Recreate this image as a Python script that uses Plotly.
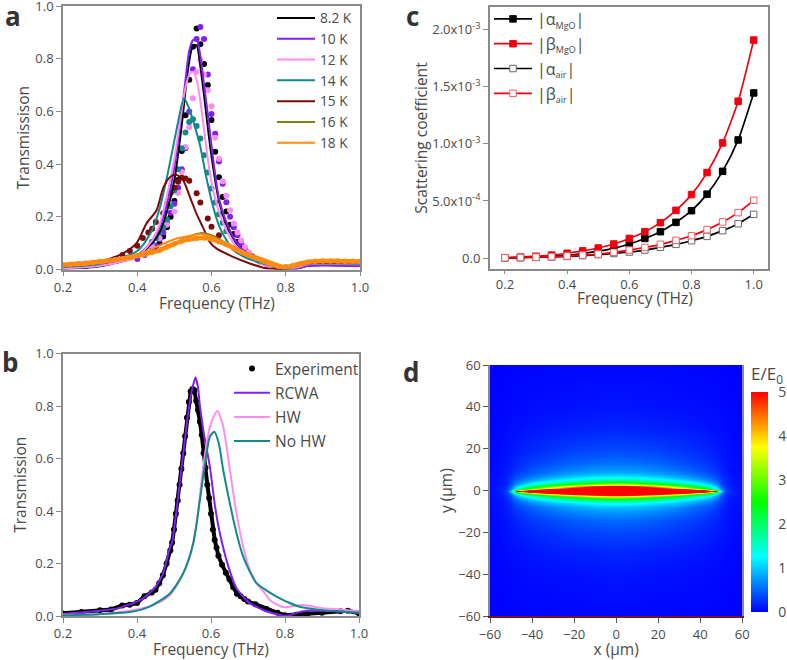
import numpy as np
import plotly.graph_objects as go

W, H = 787, 660
MR = 19              # right margin: panel c's box ends at x = 768
PW = W - MR          # plot area width that paper fractions refer to
FONT = "Open Sans"
TXT = "#4a4a4a"
AXC = "#8a8a8a"

BLACK, PURPLE, PINK, TEAL, DRED, OLIVE, ORANGE = "#000000", "#7f1ff2", "#ff8cf2", "#128a8a", "#7d0a0a", "#808012", "#ff8a12"
RED = "#f0000f"

# ---------- panel a: fitted curves
A_F = [0.2, 0.3, 0.4, 0.44, 0.46, 0.48, 0.5, 0.52, 0.53, 0.54, 0.55, 0.56, 0.57, 0.58, 0.59, 0.6, 0.62, 0.64, 0.66, 0.68, 0.7, 0.75, 0.78, 0.8, 0.83, 0.86, 0.9, 1.0]
A_8K = [.002, .012, .05, .1, .14, .22, .34, .55, .68, .79, .85, .85, .77, .66, .54, .43, .26, .17, .115, .075, .05, .015, .001, .003, .003, .015, .017, .016]
A_10K = [.005, .015, .055, .11, .16, .25, .39, .6, .72, .83, .87, .875, .81, .70, .59, .47, .27, .18, .12, .08, .055, .018, .002, .005, .004, .013, .015, .013]
A_12K = [.004, .014, .05, .11, .17, .28, .42, .61, .69, .74, .75, .72, .64, .53, .42, .33, .22, .15, .1, .07, .045, .012, .002, .004, .008, .02, .022, .02]
A_14K_F = [0.2, 0.3, 0.4, 0.44, 0.46, 0.48, 0.5, 0.51, 0.526, 0.54, 0.55, 0.568, 0.586, 0.604, 0.622, 0.658, 0.7, 0.75, 0.78, 0.8, 0.83, 0.86, 0.9, 1.0]
A_14K = [.01, .022, .07, .15, .23, .35, .49, .56, .65, .61, .567, .478, .35, .24, .16, .075, .04, .018, .002, .004, .012, .022, .024, .022]
A_15K_F = [0.2, 0.3, 0.36, 0.398, 0.425, 0.452, 0.47, 0.488, 0.505, 0.523, 0.542, 0.56, 0.577, 0.595, 0.613, 0.658, 0.703, 0.748, 0.78, 0.8, 0.83, 0.86, 0.9, 1.0]
A_15K = [.012, .03, .06, .10, .175, .225, .31, .35, .36, .34, .275, .21, .16, .105, .08, .048, .023, .004, .002, .006, .015, .024, .026, .025]
A_16K_F = [0.2, 0.3, 0.4, 0.5, 0.55, 0.57, 0.6, 0.64, 0.7, 0.78, 0.8, 0.84, 0.88, 1.0]
A_16K = [.012, .025, .05, .10, .13, .138, .13, .10, .06, .012, .008, .022, .028, .025]
A_18K_F = [0.2, 0.3, 0.4, 0.45, 0.5, 0.55, 0.57, 0.6, 0.64, 0.7, 0.75, 0.8, 0.85, 0.9, 1.0]
A_18K = [.018, .03, .055, .085, .115, .13, .135, .125, .095, .06, .035, .012, .03, .031, .028]

# ---------- panel a: measured dots
D_8K_F = [.45, .46, .47, .48, .49, .50, .51, .52, .53, .54, .55, .56, .57, .58, .59, .60, .61, .62, .63, .64, .65, .66, .67, .68, .69, .70]
D_8K = [.08, .10, .125, .16, .20, .26, .34, .45, .585, .72, .845, .915, .855, .78, .70, .567, .447, .35, .275, .22, .17, .135, .105, .08, .065, .05]
D_10K_F = [.40, .42, .44, .45, .46, .47, .48, .49, .50, .51, .52, .53, .54, .55, .56, .57, .58, .59, .60, .61, .62, .63, .64, .65, .66, .67, .68, .69, .70, .71, .72, .73, .75, .78, .80]
D_10K = [.04, .055, .075, .09, .115, .14, .18, .215, .25, .31, .38, .46, .60, .76, .875, .92, .875, .74, .59, .515, .41, .325, .255, .20, .16, .13, .10, .08, .062, .05, .04, .03, .015, .003, .005]
D_12K_F = [.44, .46, .48, .50, .51, .52, .53, .54, .55, .56, .57, .58, .59, .60, .61, .62, .63, .64, .65, .66, .67, .68, .69, .70]
D_12K = [.09, .12, .17, .22, .29, .37, .465, .54, .65, .75, .795, .74, .68, .62, .50, .42, .335, .28, .225, .175, .14, .11, .085, .065]
D_14K_F = [.44, .45, .46, .47, .48, .49, .50, .51, .52, .53, .54, .55, .56, .57, .58, .59, .60, .61, .62, .63, .64]
D_14K = [.105, .12, .14, .16, .19, .24, .30, .38, .46, .52, .56, .57, .545, .497, .434, .368, .307, .254, .21, .177, .145]
D_15K_F = [.32, .34, .36, .38, .40, .415, .43, .44, .45, .47, .48, .49, .50, .51, .52, .53, .54, .56, .57, .59, .60, .62]
D_15K = [.03, .04, .055, .07, .09, .12, .14, .155, .18, .213, .25, .29, .31, .333, .348, .345, .337, .289, .254, .194, .162, .13]
D_18K_F = [.2, .22, .24, .26, .28, .3, .32, .34, .36, .38, .4, .42, .44, .46, .48, .5, .52, .54, .56, .58, .6, .62, .64, .66, .68, .7, .72, .74, .76, .78, .8, .82, .84, .86, .88, .9, .92, .94, .96, .98, 1.0]
D_18K = [.018, .02, .022, .024, .027, .03, .033, .037, .041, .046, .052, .058, .065, .073, .085, .097, .108, .115, .119, .12, .115, .105, .095, .08, .066, .054, .043, .032, .02, .012, .01, .015, .022, .028, .031, .032, .032, .032, .031, .031, .03]

# ---------- panel b
B_EXP_F = [.2, .25, .3, .33, .36, .38, .4, .42, .44, .45, .46, .47, .48, .49, .495, .50, .505, .51, .515, .52, .525, .53, .535, .54, .545, .55, .555, .56, .565, .57, .575, .58, .585, .59, .595, .60, .605, .61, .615, .62, .63, .64, .65, .66, .67, .68, .69, .70, .72, .75, .78, .8, .83, .86, .9, .95, .97, 1.0]
B_EXP = [.01, .015, .022, .025, .04, .043, .05, .075, .09, .10, .125, .155, .20, .25, .28, .33, .39, .44, .50, .56, .62, .685, .755, .815, .855, .865, .86, .82, .785, .74, .69, .62, .565, .50, .45, .39, .33, .29, .26, .23, .195, .165, .14, .11, .085, .075, .065, .055, .045, .027, .012, .003, .005, .008, .012, .018, .02, .01]
B_RCWA_F = [.2, .3, .35, .4, .42, .45, .47, .49, .495, .51, .52, .53, .54, .55, .558, .565, .57, .58, .597, .611, .624, .647, .669, .705, .741, .786, .8, .81, .83, .86, .9, .95, 1.0]
B_RCWA = [.008, .02, .03, .055, .07, .11, .16, .265, .28, .44, .56, .68, .79, .87, .91, .87, .80, .70, .569, .417, .315, .188, .105, .048, .023, .004, 0, .002, .012, .02, .02, .018, .012]
B_HW_F = [.2, .3, .4, .45, .489, .516, .543, .561, .579, .597, .617, .633, .651, .669, .687, .705, .723, .746, .759, .786, .8, .83, .85, .9, .95, 1.0]
B_HW = [.005, .008, .025, .045, .08, .137, .226, .353, .569, .721, .781, .721, .556, .391, .264, .175, .125, .086, .061, .038, .033, .04, .042, .03, .025, .018]
B_NO_F = [.2, .3, .39, .434, .489, .525, .552, .570, .584, .597, .609, .621, .633, .651, .669, .687, .705, .723, .759, .786, .804, .84, .894, 1.0]
B_NO = [.003, .007, .017, .036, .086, .163, .277, .442, .582, .683, .702, .658, .556, .429, .315, .226, .169, .125, .089, .067, .055, .035, .023, .013]

# ---------- panel c
C_F = [.2, .25, .3, .35, .4, .45, .5, .55, .6, .65, .7, .75, .8, .85, .9, .95, 1.0]
ALPHA_MGO = [.002, .005, .009, .015, .025, .04, .06, .085, .123, .172, .231, .313, .415, .56, .76, 1.035, 1.447]
BETA_MGO = [.003, .008, .016, .026, .042, .063, .088, .123, .172, .231, .31, .418, .556, .749, 1.009, 1.374, 1.91]
ALPHA_AIR = [.002, .004, .006, .01, .014, .021, .03, .04, .053, .07, .094, .12, .152, .19, .24, .301, .383]
BETA_AIR = [.002, .005, .008, .012, .018, .026, .035, .05, .07, .093, .12, .155, .196, .249, .316, .398, .506]
C_TICKV = [0, 5e-4, 1e-3, 1.5e-3, 2e-3]
C_TICKT = ["0.0", "5.0x10<sup>-4</sup>", "1.0x10<sup>-3</sup>", "1.5x10<sup>-3</sup>", "2.0x10<sup>-3</sup>"]

# ---------- panel d: field read at sample positions (upper right quadrant)
D_X = [0, 10, 20, 30, 40, 45, 48, 50, 52, 55, 60]
D_Y = [0, .5, 1, 1.5, 2, 2.5, 3, 4, 5, 6, 8, 10, 14, 20, 30, 40, 60]
D_FIELD = [
    [6, 6, 6, 6, 5.2, 4, 3.4, 2.4, 1.8, 1.35, .95, .75, .52, .35, .18, .1, .03],
    [6, 6, 6, 6, 4.8, 3.7, 3.1, 2.2, 1.7, 1.3, .92, .72, .5, .33, .17, .09, .03],
    [6, 6, 6, 5.2, 3.9, 3.1, 2.6, 1.9, 1.45, 1.15, .82, .65, .45, .3, .15, .08, .03],
    [6, 6, 5.5, 3.9, 3, 2.4, 2, 1.5, 1.15, .95, .68, .54, .37, .25, .13, .07, .025],
    [6, 5.5, 3.6, 2.6, 2, 1.6, 1.35, 1.05, .82, .68, .5, .4, .28, .19, .1, .06, .02],
    [6, 3.8, 2.4, 1.8, 1.4, 1.15, .98, .78, .62, .52, .38, .3, .22, .15, .08, .05, .02],
    [4.5, 2.2, 1.4, 1.1, .9, .78, .68, .55, .45, .38, .3, .24, .17, .12, .07, .04, .02],
    [1.2, .9, .65, .55, .48, .42, .38, .33, .3, .26, .2, .17, .13, .1, .06, .04, .015],
    [.35, .32, .3, .28, .25, .24, .22, .2, .18, .16, .14, .12, .1, .08, .05, .03, .015],
    [.15, .15, .14, .14, .13, .12, .12, .11, .1, .09, .08, .07, .06, .05, .035, .025, .01],
    [.06, .06, .06, .06, .06, .05, .05, .05, .05, .05, .04, .04, .035, .03, .02, .015, .01],
]
JET = [[0, "#0000ff"], [.25, "#00ffff"], [.5, "#00ff00"], [.75, "#ffff00"], [1, "#ff0000"]]


def px(v):
    return v / PW


def dom_x(a, b):
    return [px(a), px(b)]


def dom_y(top, bot):
    return [1 - bot / H, 1 - top / H]


fig = go.Figure()


def line(x, y, c, name=None, w=2.0, ax=("x", "y"), leg=None, smooth=0.7):
    fig.add_trace(go.Scatter(x=x, y=y, mode="lines", name=name or "", xaxis=ax[0], yaxis=ax[1],
                             line=dict(color=c, width=w, shape="spline", smoothing=smooth),
                             showlegend=name is not None, legend=leg, legendgroup=name, hoverinfo="skip"))


def dots(x, y, c, size=6, ax=("x", "y")):
    fig.add_trace(go.Scatter(x=x, y=y, mode="markers", xaxis=ax[0], yaxis=ax[1], showlegend=False,
                             marker=dict(color=c, size=size), hoverinfo="skip"))


# panel a
dots(D_8K_F, D_8K, BLACK)
dots(D_10K_F, D_10K, PURPLE)
dots(D_12K_F, D_12K, PINK)
dots(D_14K_F, D_14K, TEAL)
dots(D_15K_F, D_15K, DRED)
line(A_F, A_8K, BLACK, "8.2 K", leg="legend")
line(A_F, A_10K, PURPLE, "10 K", leg="legend")
line(A_F, A_12K, PINK, "12 K", leg="legend")
line(A_14K_F, A_14K, TEAL, "14 K", leg="legend")
line(A_15K_F, A_15K, DRED, "15 K", leg="legend")
line(A_16K_F, A_16K, OLIVE, "16 K", leg="legend")
fig.add_trace(go.Scatter(x=D_18K_F, y=D_18K, mode="lines+markers", xaxis="x", yaxis="y", showlegend=False,
                         line=dict(color=ORANGE, width=4.5, shape="spline"), marker=dict(color=ORANGE, size=5.5), hoverinfo="skip"))
line(A_18K_F, A_18K, ORANGE, "18 K", leg="legend")

# panel b
bx = ("x2", "y2")
fig.add_trace(go.Scatter(x=B_EXP_F, y=B_EXP, mode="lines+markers", name="Experiment", xaxis="x2", yaxis="y2",
                         line=dict(color=BLACK, width=4), marker=dict(color=BLACK, size=6),
                         legend="legend2", showlegend=False, hoverinfo="skip"))
fig.add_trace(go.Scatter(x=[None], y=[None], mode="markers", name="Experiment", xaxis="x2", yaxis="y2",
                         marker=dict(color=BLACK, size=6), legend="legend2", legendgroup="Experiment", hoverinfo="skip"))
line(B_RCWA_F, B_RCWA, PURPLE, "RCWA", ax=bx, leg="legend2", smooth=0.4)
line(B_HW_F, B_HW, PINK, "HW", ax=bx, leg="legend2")
line(B_NO_F, B_NO, TEAL, "No HW", ax=bx, leg="legend2")

# panel c
SUB = '<sub><span style="font-size:9px">%s</span></sub>'
for yv, col, fill, nm in [
    (ALPHA_MGO, BLACK, BLACK, "|α" + SUB % "MgO" + "|"),
    (BETA_MGO, RED, RED, "|β" + SUB % "MgO" + "|"),
    (ALPHA_AIR, BLACK, "white", "|α" + SUB % "air" + "|"),
    (BETA_AIR, RED, "white", "|β" + SUB % "air" + "|"),
]:
    edge = col if fill != "white" else ("#666666" if col == BLACK else "#f06060")
    fig.add_trace(go.Scatter(x=C_F, y=np.array(yv) * 1e-3, mode="lines+markers", name=nm, xaxis="x3", yaxis="y3",
                             line=dict(color=col, width=1.7, shape="spline", smoothing=0.6),
                             marker=dict(symbol="square", size=6.5, color=fill, line=dict(color=edge, width=1)),
                             legend="legend3", legendgroup=nm, hoverinfo="skip"))

# panel d
q = np.array(D_FIELD)            # rows follow D_X, columns follow D_Y
right = np.hstack([q[:, :0:-1], q])
full = np.vstack([right[:0:-1], right])
xs = [-v for v in D_X[:0:-1]] + D_X
ys = [-v for v in D_Y[:0:-1]] + D_Y
fig.add_trace(go.Heatmap(x=xs, y=ys, z=full.T.tolist(), xaxis="x4", yaxis="y4", zmin=0, zmax=5, zsmooth="best",
                         colorscale=JET, hoverinfo="skip",
                         colorbar=dict(x=px(751), xanchor="left", thickness=17, len=220 / H, lenmode="fraction",
                                       y=1 - 612 / H, yanchor="bottom", ypad=0, xpad=0, outlinewidth=0,
                                       tickvals=[0, 1, 2, 3, 4, 5], ticks="outside", ticklen=8, tickcolor="rgba(0,0,0,0)",
                                       ticklabeloverflow="allow",
                                       tickfont=dict(size=14, color=TXT, family=FONT))))

ax_common = dict(showgrid=False, zeroline=False, showline=True, linecolor=AXC, linewidth=1.5, mirror=True,
                 automargin=False, ticks="outside", ticklen=5, tickcolor=AXC, tickwidth=1, ticklabeloverflow="allow",
                 tickfont=dict(size=13, color=TXT, family=FONT))
ax_d = {**ax_common, "tickcolor": "#555555"}


def title(t, st, size=15.5):
    return dict(text=t, standoff=st, font=dict(size=size, color=TXT, family=FONT))


def label(t, x, y, size=15.5):
    return dict(text=t, x=px(x), y=1 - y / H, xref="paper", yref="paper", showarrow=False,
                xanchor="center", yanchor="middle", font=dict(size=size, color=TXT, family=FONT))


lay = dict(
    xaxis=dict(domain=dom_x(63, 360), anchor="y", range=[.2, 1], tickvals=[.2, .4, .6, .8, 1], tickformat=".1f", **ax_common),
    yaxis=dict(domain=dom_y(6, 269.5), anchor="x", range=[0, 1], tickvals=[0, .2, .4, .6, .8, 1], tickformat=".1f", title=title("Transmissison", 2), **ax_common),
    xaxis2=dict(domain=dom_x(63, 359), anchor="y2", range=[.2, 1], tickvals=[.2, .4, .6, .8, 1], tickformat=".1f", title=title("Frequency (THz)", 7), **ax_common),
    yaxis2=dict(domain=dom_y(353.5, 616), anchor="x2", range=[0, 1], tickvals=[0, .2, .4, .6, .8, 1], tickformat=".1f", title=title("Transmission", 5), **ax_common),
    xaxis3=dict(domain=dom_x(489.7, 768), anchor="y3", range=[.151, 1.046], tickvals=[.2, .4, .6, .8, 1], tickformat=".1f", **{**ax_common, "ticklen": 3}),
    yaxis3=dict(domain=dom_y(7, 269), anchor="x3", range=[-9.6e-5, 2.2e-3], tickvals=C_TICKV, ticktext=C_TICKT, title=title("Scattering coefficient", 0), **ax_common),
    xaxis4=dict(domain=dom_x(490, 742.3), anchor="y4", range=[-60, 60], tickvals=[-60, -40, -20, 0, 20, 40, 60], title=title("x (µm)", 0), **{**ax_d, "mirror": False, "linecolor": "#7d1010"}),
    yaxis4=dict(domain=dom_y(365, 616.3), anchor="x4", range=[-60, 60], tickvals=[-60, -40, -20, 0, 20, 40, 60], title=title("y (µm)", 2), **ax_d),
    legend=dict(x=px(272), xanchor="left", y=1 - 2.5 / H, yanchor="top", bgcolor="rgba(0,0,0,0)", itemwidth=38, tracegroupgap=0,
                font=dict(size=13.7, color=TXT, family=FONT), itemclick=False),
    legend2=dict(x=px(229), xanchor="left", y=1 - 352 / H, yanchor="top", bgcolor="rgba(0,0,0,0)", itemwidth=36, tracegroupgap=1,
                 font=dict(size=15.5, color=TXT, family=FONT), itemclick=False),
    legend3=dict(x=px(489), xanchor="left", y=1 - 2 / H, yanchor="top", bgcolor="rgba(0,0,0,0)", itemwidth=38, tracegroupgap=1,
                 font=dict(size=16, color=TXT, family=FONT), itemclick=False),
    width=W, height=H, margin=dict(l=0, r=MR, t=0, b=0), autosize=False,
    plot_bgcolor="white", paper_bgcolor="white", showlegend=True,
    annotations=[
        dict(text="<b>%s</b>" % t, x=px(p), y=1 - py / H, xref="paper", yref="paper", showarrow=False, xanchor="left", yanchor="middle",
             font=dict(size=26, color="#333333", family=FONT))
        for t, p, py in [("a", 3, 16), ("b", 0, 362), ("c", 404, 16), ("d", 401, 372)]
    ] + [
        dict(text="E/E<sub>0</sub>", x=px(749), y=1 - 374 / H, xref="paper", yref="paper", showarrow=False, xanchor="left", yanchor="middle",
             font=dict(size=17, color=TXT, family=FONT)),
        label("Frequency (THz)", 635, 298),
        label("Frequency (THz)", 217, 303),
    ],
)
fig.update_layout(**lay)
fig.write_html("out.html", config={"displayModeBar": False},
               post_script="document.body.style.margin='0';document.body.style.overflow='hidden';")
